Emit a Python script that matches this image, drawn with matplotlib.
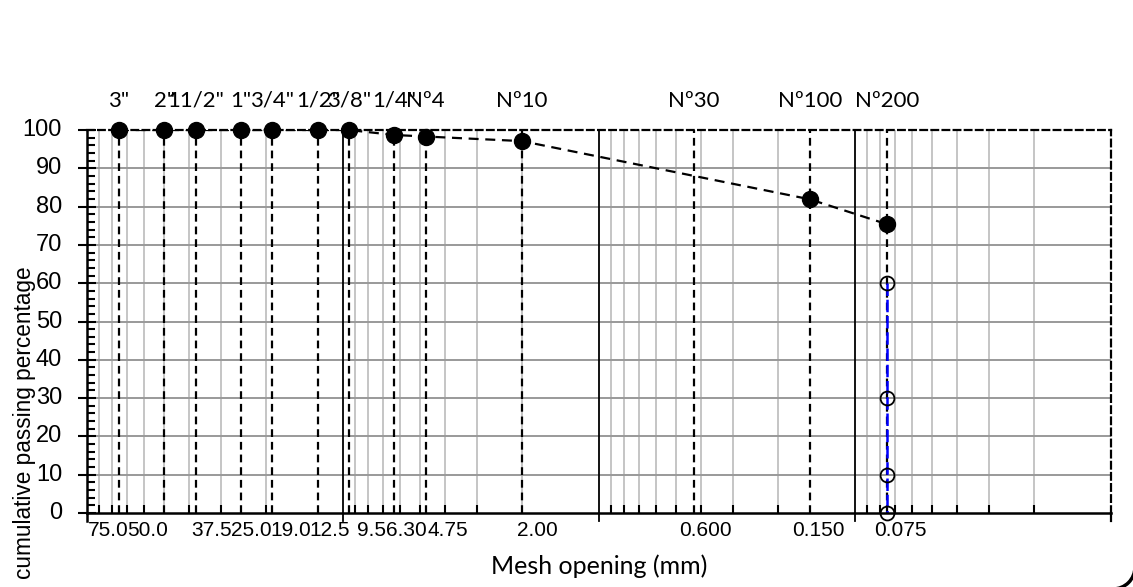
import numpy as np
import matplotlib.pyplot as plt
from matplotlib.patches import Arc
from matplotlib.transforms import ScaledTranslation, blended_transform_factory

# sieve openings (mm) as placed on the chart, and cumulative passing (%)
sizes = [75.0, 50.0, 37.5, 25.0, 19.0, 12.5, 9.5, 6.3, 4.75, 2.00, 0.425, 0.150, 0.075]
passing = [100, 100, 100, 100, 100, 100, 100, 98.7, 98.3, 97.1, 88.0, 81.9, 75.4]
sieve_names = ['3"', '2"', '11/2"', '1"', '3/4"', '1/2"', '3/8"', '1/4"',
               'Nº4', 'Nº10', 'Nº30', 'Nº100', 'Nº200']
tick_labels = ['75.0', '50.0', '37.5', '25.0', '19.0', '12.5', '9.5', '6.30',
               '4.75', '2.00', '0.600', '0.150', '0.075']
y_ticks = list(range(0, 101, 10))
# no marker drawn for the Nº30 point
marker_idx = [0, 1, 2, 3, 4, 5, 6, 7, 8, 9, 11, 12]
fines_size = 0.075
fines_y = [60, 30, 10, 0]

tick_font = 'Liberation Sans'
label_font = 'Lato'

fig = plt.figure(figsize=(11.33, 5.87), dpi=100)
ax = fig.add_axes([87 / 1133, 1 - 513 / 587, 1024 / 1133, 383 / 587])

ax.set_xscale('log')
ax.set_xlim(100, 0.01)
ax.set_ylim(0, 100)

# grid: minor log lines vertical, every 10 horizontal
minors = [m * 10.0 ** e for e in range(-2, 2) for m in range(2, 10)]
for x in minors:
    ax.axvline(x, color='#c0c0c0', lw=1.3, zorder=0)
for y in range(10, 100, 10):
    ax.axhline(y, color='#999999', lw=1.4, zorder=0)
for x in [10, 1, 0.1]:
    ax.axvline(x, ymin=-0.02, ymax=1, color='black', lw=1.3, clip_on=False, zorder=1)

# vertical dashed lines at each sieve
for s in sizes:
    ax.plot([s, s], [0, 100], color='black', lw=1.6, dashes=(3.5, 2.2), zorder=2)

# fines: blue line with open circles
ax.plot([fines_size] * len(fines_y), fines_y, color='blue', lw=1.8,
        dashes=(5, 1.5), zorder=2.5)
ax.plot([fines_size] * len(fines_y), fines_y, linestyle='none', marker='o',
        markersize=10, markerfacecolor='none', markeredgecolor='black',
        markeredgewidth=1.3, zorder=4, clip_on=False)

# grading curve
ax.plot(sizes, passing, color='black', lw=1.6, dashes=(4.5, 3), zorder=3)
ax.plot(np.array(sizes)[marker_idx], np.array(passing)[marker_idx], linestyle='none',
        marker='o', markersize=11.5, color='black', zorder=4, clip_on=False)

# sieve names above the plot
for s, name in zip(sizes, sieve_names):
    ax.text(s, 107.6, name, ha='center', va='center', fontsize=16,
            family=label_font, clip_on=False)

# x ticks
ax.set_xticks(sizes)
ax.set_xticklabels(tick_labels, fontsize=15, family=tick_font)
ax.set_xticks(minors, minor=True)
ax.set_xticklabels([], minor=True)
ax.tick_params(axis='x', which='major', length=0, pad=6)
ax.tick_params(axis='x', which='minor', direction='in', length=6, width=1.5)

# the labels sit a little off their sieve lines, as in the original sheet
label_shift_px = [-11, -16, 16, 10, 19, 11, 23, 12, 22, 15, 11, 8, 13]
for lbl, dx in zip(ax.get_xticklabels(), label_shift_px):
    lbl.set_transform(lbl.get_transform() + ScaledTranslation(dx / 100, 0, fig.dpi_scale_trans))

# y ticks, labels placed as text left of the axis
ax.set_yticks(y_ticks)
ax.set_yticks(range(0, 101, 2), minor=True)
ax.set_yticklabels([])
ax.tick_params(axis='y', which='major', direction='inout', length=13, width=1.5)
ax.tick_params(axis='y', which='minor', direction='in', length=6, width=1.5)
ytrans = blended_transform_factory(ax.transAxes, ax.transData)
for v in y_ticks:
    ax.text(-25 / 1024, v, str(v), transform=ytrans, ha='right', va='center',
            fontsize=17, family=tick_font, clip_on=False)

for side in ['left', 'bottom']:
    ax.spines[side].set_linewidth(1.8)
for side in ['top', 'right']:
    ax.spines[side].set_linewidth(1.6)
    ax.spines[side].set_linestyle((0, (3, 2)))
ax.axvline(0.01, ymin=-0.02, ymax=0, color='black', lw=1.6, clip_on=False)
ax.axvline(100, ymin=-0.02, ymax=0, color='black', lw=1.8, clip_on=False)

ax.set_xlabel('Mesh opening (mm)', fontsize=18, family=label_font, labelpad=10)
ax.set_ylabel('cumulative passing percentage', fontsize=16.3, family=tick_font)
ax.yaxis.set_label_coords(-0.05, 0.235)

# bottom-right corner of the rounded chart frame
fig.add_artist(Arc((11.13, 0.20), 0.44, 0.44, theta1=270, theta2=360,
                   transform=fig.dpi_scale_trans, lw=2.5, color='black'))

fig.savefig('out.png', dpi=100)
